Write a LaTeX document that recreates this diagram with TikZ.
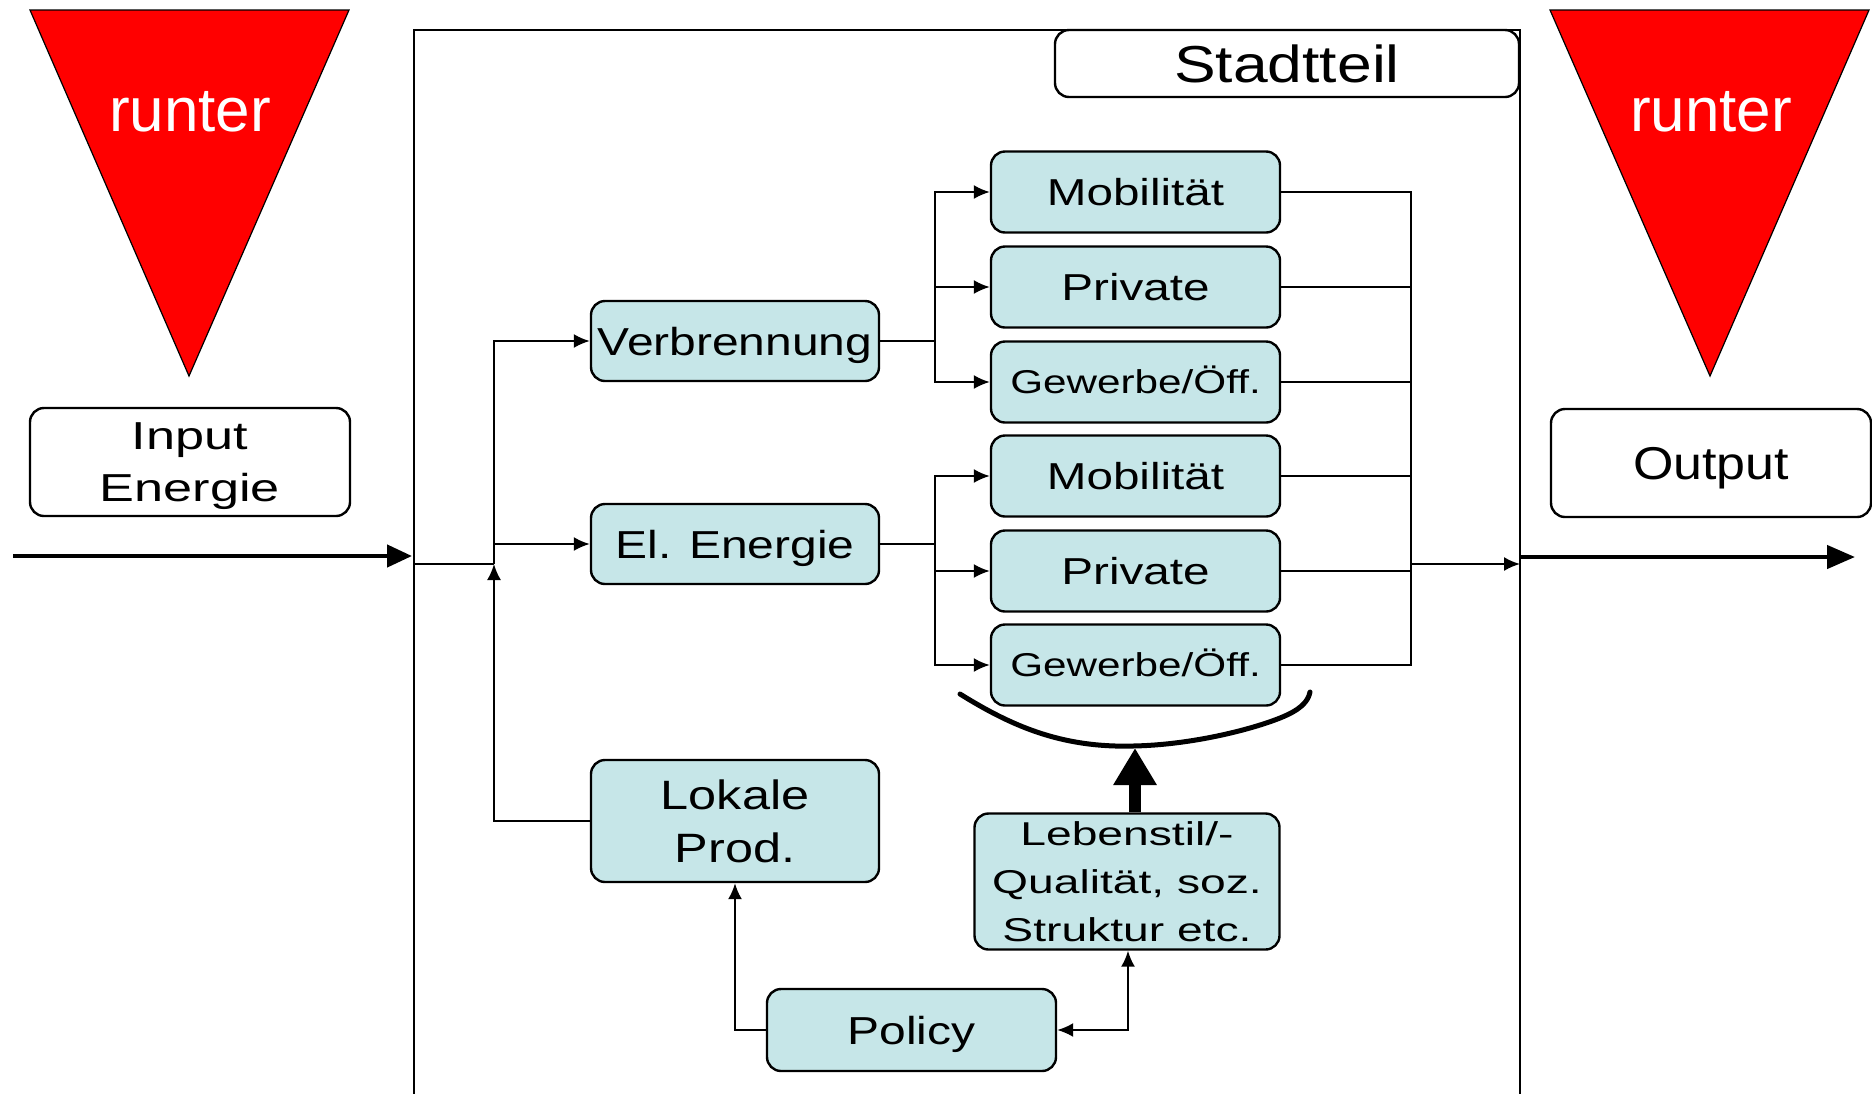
\documentclass[tikz,border=0pt]{standalone}
\usepackage{fontspec}
\setmainfont{Liberation Sans}
\newfontfamily\fOut[FakeStretch=1.13]{Liberation Sans}
\newfontfamily\fStadt[FakeStretch=1.2]{Liberation Sans}
\newfontfamily\fBox[FakeStretch=1.23]{Liberation Sans}
\newfontfamily\fMob[FakeStretch=1.27]{Liberation Sans}
\newfontfamily\fGew[FakeStretch=1.28]{Liberation Sans}
\newfontfamily\fIn[FakeStretch=1.34]{Liberation Sans}
\newfontfamily\fLeb[FakeStretch=1.4]{Liberation Sans}
\usetikzlibrary{arrows.meta}
\definecolor{boxfill}{RGB}{198,230,232}
\begin{document}
\begin{tikzpicture}[x=0.5pt,y=-0.5pt,
  box/.style={draw=black, line width=1.2pt, fill=boxfill, rounded corners=7pt,
    inner sep=0pt, align=center, text depth=0pt},
  wbox/.style={box, fill=white},
  rbox/.style={box, minimum width=144.5pt, minimum height=40.5pt},
  mobfont/.style={font=\fMob\fontsize{18.75pt}{22pt}\selectfont},
  gewfont/.style={font=\fGew\fontsize{16.5pt}{20pt}\selectfont, text height=11.9pt},
  boxfont/.style={font=\fBox\fontsize{19.5pt}{23pt}\selectfont},
  conn/.style={line width=1pt},
  tip/.style={-{Latex[length=8pt,width=7pt]}},
  bigarr/.style={line width=2.2pt, -{Triangle[length=12.5pt,width=11pt]}},
  runterlbl/.style={text=white, font=\fontsize{31pt}{36pt}\selectfont, inner sep=0pt, anchor=base}
]
\useasboundingbox (0,0) rectangle (1872,1093);
\fill[white] (0,0) rectangle (1872,1093);

% red triangles
\filldraw[fill=red, draw=black, line width=0.6pt] (30,10) -- (349,10) -- (189,376) -- cycle;
\filldraw[fill=red, draw=black, line width=0.6pt] (1550,10) -- (1869,10) -- (1710,376) -- cycle;
\node[runterlbl] (r1) at (190,131) {runter};
\node[runterlbl] (r2) at (1711,131) {runter};

% outer frame
\draw[line width=1pt] (414,1100) -- (414,30) -- (1520,30) -- (1520,1100);
\node[wbox, minimum width=232pt, minimum height=33.5pt, font=\fStadt\fontsize{26pt}{30pt}\selectfont] (stadt) at (1287,63.5) {Stadtteil};

% input / output labels
\node[wbox, minimum width=160pt, minimum height=54pt, text depth=-3pt, font=\fIn\fontsize{19.5pt}{26pt}\selectfont] (inp) at (190,462) {Input\\Energie};
\node[wbox, minimum width=160pt, minimum height=54pt, font=\fOut\fontsize{23pt}{27pt}\selectfont] (outp) at (1711,463) {Output};

% big arrows
\coordinate (inS) at (13,556);
\coordinate (inE) at (412,556);
\coordinate (outS) at (1521,557);
\coordinate (outE) at (1855,557);
\draw[bigarr] (inS) -- (inE);
\draw[line width=2.2pt, -{Triangle[length=14pt,width=11.5pt]}] (outS) -- (outE);

% left column
\node[box, boxfont, minimum width=144pt, minimum height=40pt] (verb) at (735,341) {Verbrennung};
\node[box, boxfont, minimum width=144pt, minimum height=40pt] (el) at (735,544) {El. Energie};
\node[box, font=\fBox\fontsize{20.5pt}{26.5pt}\selectfont, minimum width=144pt, minimum height=61pt] (lok) at (735,821) {Lokale\\Prod.};

% right column
\node[rbox, mobfont] (m1) at (1135.5,192) {Mobilität};
\node[rbox, mobfont] (p1) at (1135.5,287) {Private};
\node[rbox, gewfont] (g1) at (1135.5,382) {Gewerbe/Öff.};
\node[rbox, mobfont] (m2) at (1135.5,476) {Mobilität};
\node[rbox, mobfont] (p2) at (1135.5,571) {Private};
\node[rbox, gewfont] (g2) at (1135.5,665) {Gewerbe/Öff.};

% bottom
\node[box, boxfont, minimum width=144.5pt, minimum height=41pt] (pol) at (911.5,1030) {Policy};
\node[box, font=\fLeb\fontsize{16.5pt}{24pt}\selectfont, minimum width=152.5pt, minimum height=68pt] (leb) at (1127,881.5) {Lebenstil/-\\Qualität, soz.\\Struktur etc.};

% input distribution
\coordinate (fin) at (414,564);
\coordinate (jin) at (494,564);
\draw[conn] (fin) -- (jin);
\draw[conn, tip] (lok.west) -| (jin);
\draw[conn, tip] (jin) |- (verb.west);
\draw[conn, tip] (jin |- el.west) -- (el.west);

% branches
\coordinate (b1) at (935,341);
\coordinate (b2) at (935,544);
\draw[conn] (verb.east) -- (b1);
\draw[conn, tip] (b1) |- (m1.west);
\draw[conn, tip] (b1) |- (p1.west);
\draw[conn, tip] (b1) |- (g1.west);
\draw[conn] (el.east) -- (b2);
\draw[conn, tip] (b2) |- (m2.west);
\draw[conn, tip] (b2) |- (p2.west);
\draw[conn, tip] (b2) |- (g2.west);

% collector
\coordinate (ctop) at (1411,192);
\coordinate (cbot) at (1411,665);
\coordinate (cout) at (1411,564);
\coordinate (fout) at (1520,564);
\draw[conn] (m1.east) -- (ctop) -- (cbot) -- (g2.east);
\draw[conn] (p1.east) -- (p1.east -| ctop);
\draw[conn] (g1.east) -- (g1.east -| ctop);
\draw[conn] (m2.east) -- (m2.east -| ctop);
\draw[conn] (p2.east) -- (p2.east -| ctop);
\draw[conn, tip] (cout) -- (fout);

% brace-like curve
\draw[line width=2.5pt, line cap=round]
  (960,694) .. controls (1010,725) and (1060,748) .. (1133,746)
  .. controls (1190,745) and (1250,730) .. (1280,718)
  .. controls (1300,710) and (1308,702) .. (1310,692);

% thick arrow
\coordinate (ta) at (1135,748);
\draw[line width=6pt, -{Triangle[length=18.5pt,width=20.5pt]}] (ta |- leb.north) -- (ta);

% policy links
\coordinate (pl) at (1128,1030);
\draw[conn, tip] (pol.west) -| (lok.south);
\draw[conn, {Latex[length=8pt,width=7pt]}-{Latex[length=8pt,width=7pt]}] (pol.east) -- (pl) -- (pl |- leb.south);
\end{tikzpicture}
\end{document}
